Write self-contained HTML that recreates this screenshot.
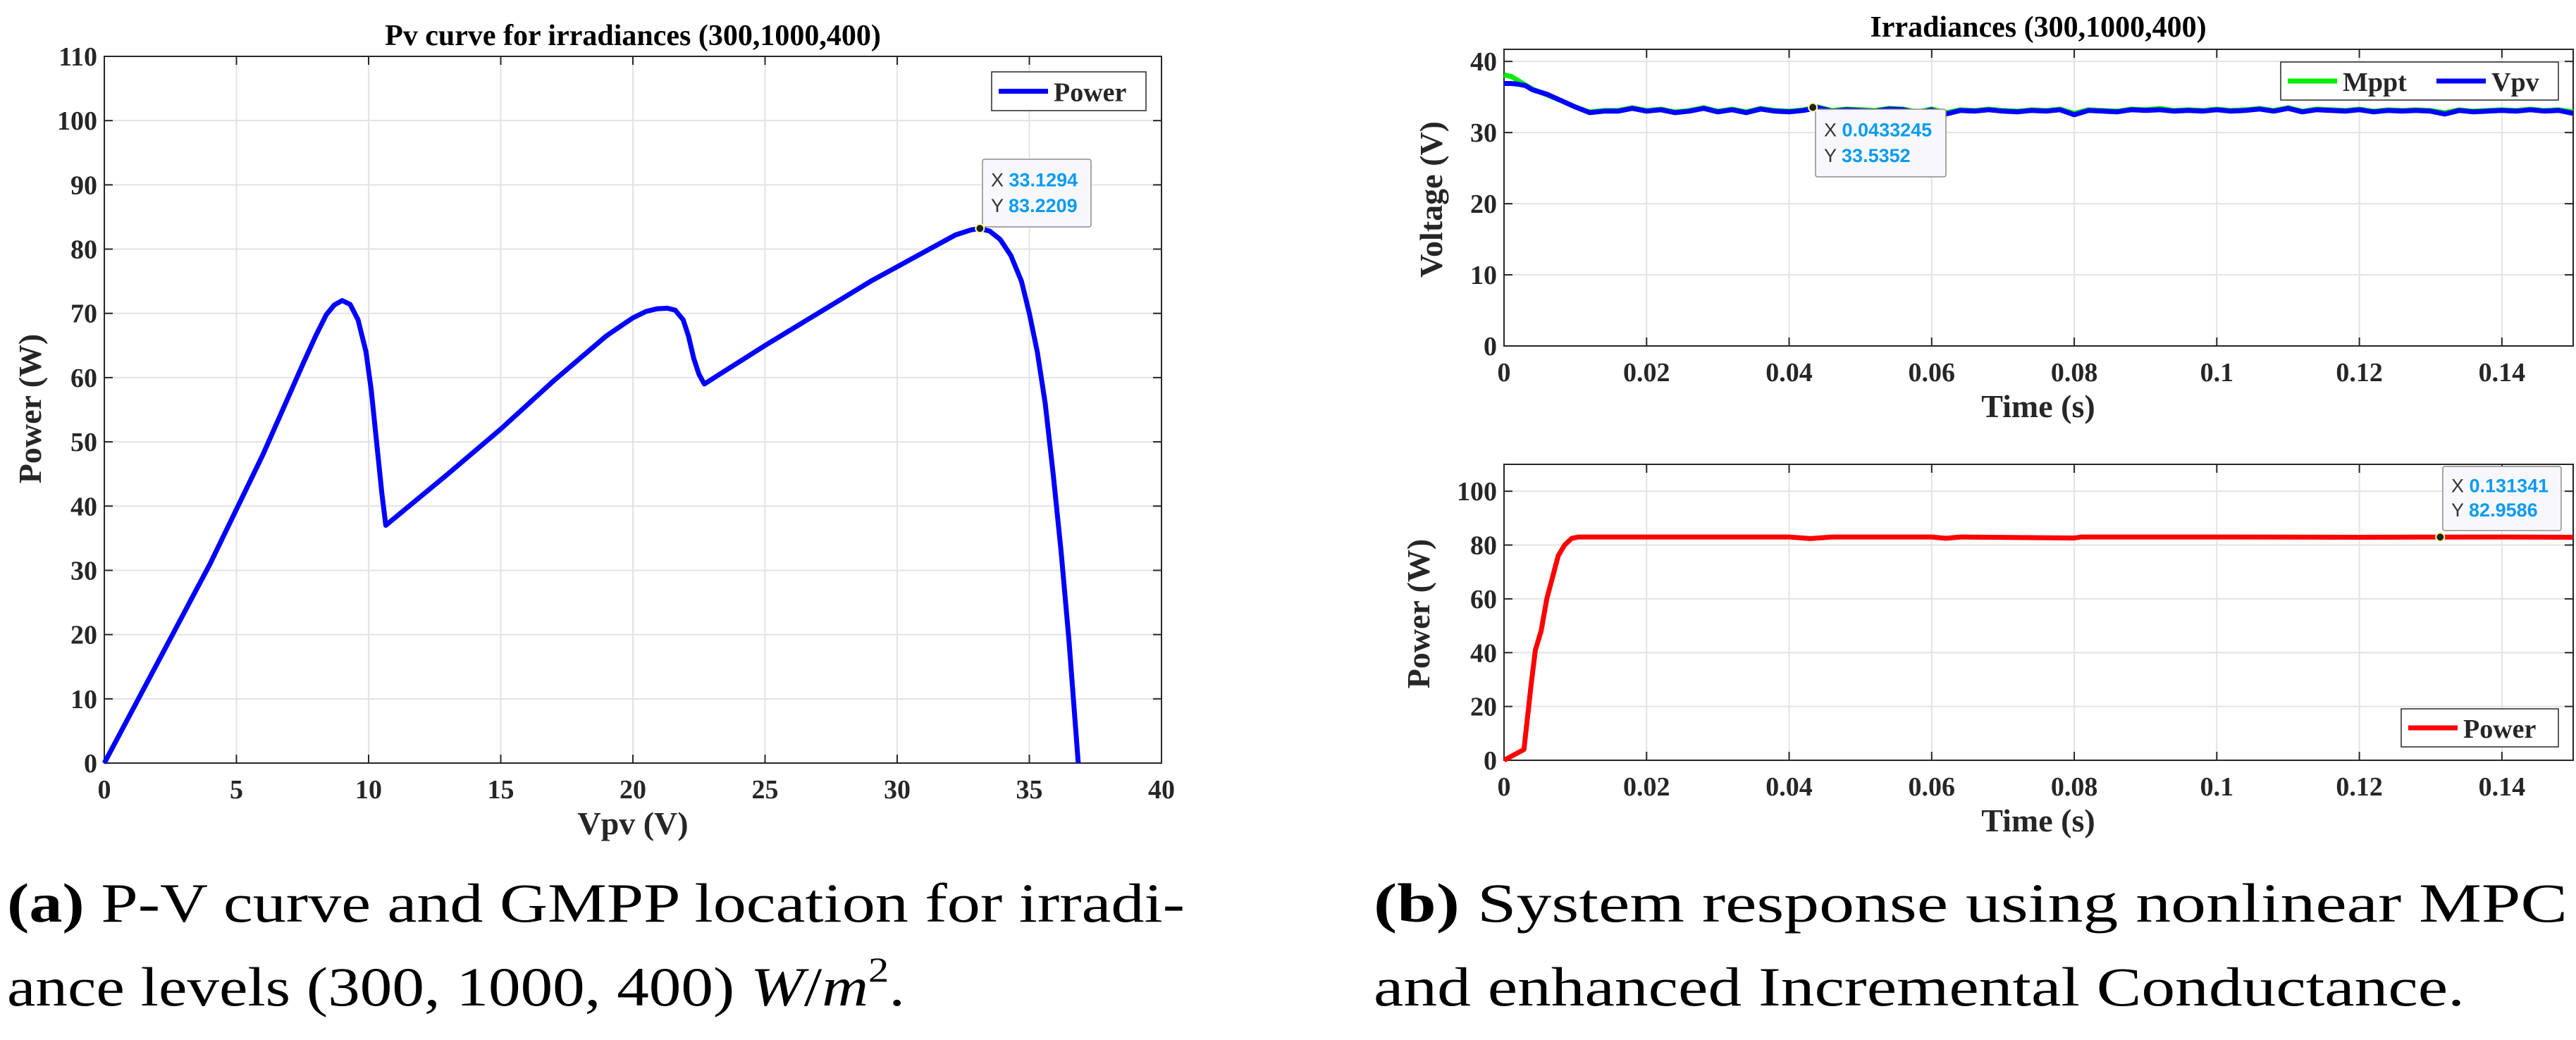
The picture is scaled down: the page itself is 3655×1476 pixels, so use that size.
<!DOCTYPE html>
<html><head><meta charset="utf-8"><style>
html,body{margin:0;padding:0;background:#fff;}
svg{display:block;}
text{font-family:"Liberation Serif",serif;}
.tk{font-size:38px;font-weight:bold;fill:#262626;}
.ttl{font-size:42px;font-weight:bold;fill:#000;}
.lab{font-size:46px;font-weight:bold;fill:#262626;}
.cap{font-size:78px;fill:#000;}
.dt{font-family:"Liberation Sans",sans-serif;font-size:27px;}
</style></head><body>
<svg id="fig" width="3655" height="1476" viewBox="0 0 3655 1476" xmlns="http://www.w3.org/2000/svg">
<g id="g1"></g>
<g id="g2"></g>
<g id="g3"></g>
<text class="cap" x="10" y="1308" textLength="1671" lengthAdjust="spacingAndGlyphs"><tspan font-weight="bold">(a)</tspan> P-V curve and GMPP location for irradi-</text>
<text class="cap" x="10" y="1427" textLength="1274" lengthAdjust="spacingAndGlyphs">ance levels (300, 1000, 400) <tspan font-style="italic">W</tspan>/<tspan font-style="italic">m</tspan><tspan font-size="50" dy="-34">2</tspan><tspan dy="34">.</tspan></text>
<text class="cap" x="1949" y="1308" textLength="1694" lengthAdjust="spacingAndGlyphs"><tspan font-weight="bold">(b)</tspan> System response using nonlinear MPC</text>
<text class="cap" x="1949" y="1427" textLength="1548" lengthAdjust="spacingAndGlyphs">and enhanced Incremental Conductance.</text>
</svg>
<script>
// PV curve data
const pvV = [0,2,4,6,7.5,8.0,8.4,8.7,9.0,9.3,9.6,9.9,10.1,10.3,10.5,10.65,13,15,17,19,20,20.5,20.9,21.3,21.6,21.9,22.1,22.3,22.5,22.7,25,27,29,31,32.2,32.8,33.13,33.5,33.9,34.3,34.7,35.0,35.3,35.6,35.9,36.2,36.5,36.85];
const pvP = [0,15.5,31,48,62,66.5,69.8,71.3,72,71.4,69,64,58,50,42,37,45,52,59.5,66.5,69.3,70.3,70.7,70.8,70.5,69,66.5,63,60.5,59,65,70,75,79.5,82.2,83,83.2,82.8,81.5,79,75,70,64,56,45,33,19,0];
const pvXTicks = [0,5,10,15,20,25,30,35,40];
const pvYTicks = [0,10,20,30,40,50,60,70,80,90,100,110];
// Voltage response data
const tV = [0,0.001,0.002,0.003,0.004,0.006,0.008,0.010,0.012,0.014,0.016,0.018,0.020,0.022,0.024,0.026,0.028,0.030,0.032,0.034,0.036,0.038,0.040,0.042,0.044,0.046,0.048,0.050,0.052,0.054,0.056,0.058,0.060,0.062,0.064,0.066,0.068,0.070,0.072,0.074,0.076,0.078,0.080,0.082,0.084,0.086,0.088,0.090,0.092,0.094,0.096,0.098,0.100,0.102,0.104,0.106,0.108,0.110,0.112,0.114,0.116,0.118,0.120,0.122,0.124,0.126,0.128,0.130,0.132,0.134,0.136,0.138,0.140,0.142,0.144,0.146,0.148,0.150];
const vpv = [36.9,36.9,36.8,36.6,36,35.4,34.5,33.6,32.8,33.0,33.0,33.4,33.0,33.2,32.8,33.0,33.4,32.9,33.2,32.8,33.3,33.0,32.9,33.1,33.5,33.0,33.2,33.1,33.0,33.3,33.2,32.8,33.2,32.6,33.1,33.0,33.2,33.0,32.9,33.1,33.0,33.2,32.5,33.1,33.0,32.9,33.2,33.1,33.2,33.0,33.1,33.0,33.2,33.0,33.1,33.3,33.0,33.4,32.9,33.2,33.1,33.0,33.2,32.9,33.1,33.0,33.1,33.0,32.6,33.1,32.9,33.0,33.1,33.0,33.2,33.0,33.1,32.7];
const mppt = [38.1,37.9,37.3,36.7,36.1,35.3,34.5,33.6,32.9,33.1,33.1,33.5,33.1,33.3,32.9,33.1,33.5,33.0,33.3,32.9,33.4,33.1,33.0,33.2,33.6,33.1,33.3,33.2,33.1,33.4,33.3,32.9,33.3,32.8,33.2,33.1,33.3,33.1,33.0,33.2,33.1,33.3,32.7,33.2,33.1,33.0,33.3,33.2,33.4,33.1,33.2,33.1,33.3,33.1,33.2,33.4,33.1,33.5,33.0,33.3,33.2,33.1,33.3,33.0,33.2,33.1,33.2,33.1,32.8,33.2,33.0,33.1,33.2,33.1,33.3,33.1,33.2,32.9];
const tP = [0,0.0028,0.0038,0.0044,0.0052,0.006,0.0068,0.0076,0.0085,0.0095,0.0105,0.012,0.02,0.04,0.043,0.046,0.06,0.062,0.064,0.08,0.081,0.1,0.12,0.131,0.14,0.15];
const pwr = [0,4,28,41,48,60,68,76,80,82.5,83,83,83,83,82.4,83,83,82.5,83,82.6,83,83,82.9,82.96,83,82.9];
const tXTicks = [0,0.02,0.04,0.06,0.08,0.1,0.12,0.14];
const vYTicks = [0,10,20,30,40];
const pYTicks = [0,20,40,60,80,100];

const NS="http://www.w3.org/2000/svg";
function mk(parent,tag,attrs){const e=document.createElementNS(NS,tag);for(const k in attrs)e.setAttribute(k,attrs[k]);parent.appendChild(e);return e;}
function axes(g,box,xr,yr,xt,yt,fmtX){
  const sx=v=>box.x0+(v-xr[0])/(xr[1]-xr[0])*(box.x1-box.x0);
  const sy=v=>box.y1-(v-yr[0])/(yr[1]-yr[0])*(box.y1-box.y0);
  const bg=mk(g,'rect',{x:box.x0,y:box.y0,width:box.x1-box.x0,height:box.y1-box.y0,fill:'#fff'});
  
  
  xt.forEach(v=>{const X=sx(v);
    const l=mk(g,'line',{x1:X,x2:X,y1:box.y0,y2:box.y1,stroke:'#e3e3e3','stroke-width':2});
    
    
    mk(g,'line',{x1:X,x2:X,y1:box.y1,y2:box.y1-12,stroke:'#262626','stroke-width':2});
    mk(g,'line',{x1:X,x2:X,y1:box.y0,y2:box.y0+12,stroke:'#262626','stroke-width':2});
    const t=mk(g,'text',{x:X,y:box.y1+50,'text-anchor':'middle',class:'tk'});t.textContent=fmtX(v);
    
    
  });
  yt.forEach(v=>{const Y=sy(v);
    const l=mk(g,'line',{x1:box.x0,x2:box.x1,y1:Y,y2:Y,stroke:'#e3e3e3','stroke-width':2});
    
    
    mk(g,'line',{x1:box.x0,x2:box.x0+12,y1:Y,y2:Y,stroke:'#262626','stroke-width':2});
    mk(g,'line',{x1:box.x1,x2:box.x1-12,y1:Y,y2:Y,stroke:'#262626','stroke-width':2});
    const t=mk(g,'text',{x:box.x0-10,y:Y+13,'text-anchor':'end',class:'tk'});t.textContent=String(v);
    
    
  });
  const fr=mk(g,'rect',{x:box.x0,y:box.y0,width:box.x1-box.x0,height:box.y1-box.y0,fill:'none',stroke:'#262626','stroke-width':2});
  
  
  return {sx,sy};
}
function line(g,xs,ys,s,color,w,name){
  const d=xs.map((x,i)=>(i?'L':'M')+s.sx(x).toFixed(1)+','+s.sy(ys[i]).toFixed(1)).join('');
  const p=mk(g,'path',{d:d,fill:'none',stroke:color,'stroke-width':w,'stroke-linejoin':'round'});
  
  
}
function text(g,x,y,str,cls,name,rot){
  const t=mk(g,'text',{x:x,y:y,'text-anchor':'middle',class:cls});t.textContent=str;
  if(rot)t.setAttribute('transform','rotate(-90 '+x+' '+y+')');
  
  
}
function datatip(g,x,y,w,h,xs,ys,mx,my){
  const r=mk(g,'rect',{x:x,y:y,width:w,height:h,fill:'#f8f8fc',stroke:'#8c8c8c','stroke-width':1.5,rx:3});
  
  
  const t1=mk(g,'text',{x:x+12,y:y+h*0.4,class:'dt'});
  t1.innerHTML='<tspan fill="#333">X </tspan><tspan fill="#0a9bf0" font-weight="bold">'+xs+'</tspan>';
  
  
  const t2=mk(g,'text',{x:x+12,y:y+h*0.78,class:'dt'});
  t2.innerHTML='<tspan fill="#333">Y </tspan><tspan fill="#0a9bf0" font-weight="bold">'+ys+'</tspan>';
  
  
  const c=mk(g,'circle',{cx:mx,cy:my,r:6,fill:'#222',stroke:'#ffff99','stroke-width':2});
  
  
}
function legend(g,x,y,w,h,items){
  const r=mk(g,'rect',{x:x,y:y,width:w,height:h,fill:'#fff',stroke:'#262626','stroke-width':1.5});
  
  
  items.forEach(it=>{
    const l=mk(g,'line',{x1:it.x,x2:it.x+70,y1:y+h/2,y2:y+h/2,stroke:it.c,'stroke-width':7});
    
    
    const t=mk(g,'text',{x:it.x+78,y:y+h/2+14,class:'tk'});t.textContent=it.t;
    t.setAttribute('font-weight','normal');t.setAttribute('fill','#000');t.setAttribute('font-size','42');
    
    
  });
}
// Chart 1
const g1=document.getElementById('g1');
const s1=axes(g1,{x0:148,x1:1648,y0:80,y1:1083},[0,40],[0,110],pvXTicks,pvYTicks,v=>String(v));
line(g1,pvV,pvP,s1,'#0000ff',7,'power-curve');
text(g1,898,64,'Pv curve for irradiances (300,1000,400)','ttl','chart-title');
text(g1,898,1184,'Vpv (V)','lab','x-axis-title');
text(g1,58,580,'Power (W)','lab','y-axis-title',true);
legend(g1,1407,102,219,55,[{x:1417,c:'#0000ff',t:'Power'}]);
datatip(g1,1394,226,154,96,'33.1294','83.2209',s1.sx(33.1294),s1.sy(83.2209));
// Chart 2
const fmtT=v=>v===0?'0':String(+v.toFixed(2));
const g2=document.getElementById('g2');
const s2=axes(g2,{x0:2134,x1:3651,y0:70,y1:491},[0,0.15],[0,41.7],tXTicks,vYTicks,fmtT);
line(g2,tV,mppt,s2,'#00ee00',7,'mppt-line');
line(g2,tV,vpv,s2,'#0000ff',7,'vpv-line');
text(g2,2892,52,'Irradiances (300,1000,400)','ttl','chart-title');
text(g2,2892,592,'Time (s)','lab','x-axis-title');
text(g2,2046,283,'Voltage (V)','lab','y-axis-title',true);
legend(g2,3236,88,394,54,[{x:3246,c:'#00ee00',t:'Mppt'},{x:3457,c:'#0000ff',t:'Vpv'}]);
datatip(g2,2576,155,185,96,'0.0433245','33.5352',s2.sx(0.0433245),s2.sy(33.5352));
// Chart 3
const g3=document.getElementById('g3');
const s3=axes(g3,{x0:2134,x1:3651,y0:659,y1:1079},[0,0.15],[0,110],tXTicks,pYTicks,fmtT);
line(g3,tP,pwr,s3,'#ff0000',7,'power-line');
text(g3,2892,1180,'Time (s)','lab','x-axis-title');
text(g3,2028,871,'Power (W)','lab','y-axis-title',true);
legend(g3,3407,1006,223,54,[{x:3417,c:'#ff0000',t:'Power'}]);
datatip(g3,3466,662,168,91,'0.131341','82.9586',s3.sx(0.131341),s3.sy(82.9586));
</script>
</body></html>
